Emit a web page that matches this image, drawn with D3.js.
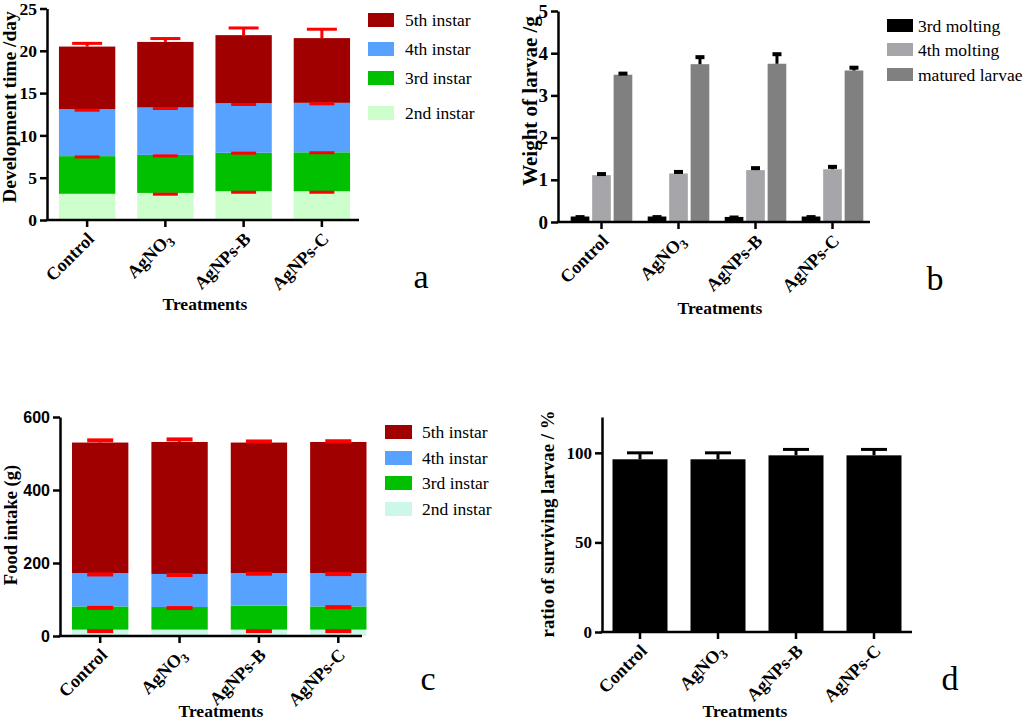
<!DOCTYPE html>
<html><head><meta charset="utf-8">
<script src="https://cdn.jsdelivr.net/npm/d3@7"></script>
<style>
body{margin:0;background:#fff;}
svg{display:block;}
</style></head><body>
<svg id="chart" width="1028" height="721"></svg>
<script>
// ---------------- DATA ----------------
const categories = ["Control", "AgNO3", "AgNPs-B", "AgNPs-C"];

// (a) development time per instar (days), stacked
const instarStages = ["2nd instar", "3rd instar", "4th instar", "5th instar"];
const devTime2nd = [3.1, 3.2, 3.4, 3.4];
const devTime3rd = [4.45, 4.5, 4.55, 4.6];
const devTime4th = [5.55, 5.6, 5.85, 5.85];
const devTime5th = [7.4, 7.75, 8.05, 7.65];
const devErr2nd = [0, 0.15, 0.12, 0.12];
const devErr3rd = [0.1, 0.12, 0.05, 0.05];
const devErr4th = [0.12, 0.12, 0.15, 0.12];
const devErr5th = [0.38, 0.4, 0.85, 1.05];
const devTicks = [0, 5, 10, 15, 20, 25];

// (b) weight of larvae (g)
const weightSeries = ["3rd molting", "4th molting", "matured larvae"];
const weight3rdMolting = [0.13, 0.13, 0.12, 0.13];
const weight4thMolting = [1.11, 1.15, 1.23, 1.25];
const weightMatured = [3.49, 3.74, 3.75, 3.59];
const weightErr3rd = [0.01, 0.01, 0.01, 0.01];
const weightErr4th = [0.05, 0.06, 0.07, 0.08];
const weightErrMatured = [0.05, 0.19, 0.25, 0.09];
const weightTicks = [0, 1, 2, 3, 4, 5];

// (c) food intake per instar (g), stacked
const food2nd = [17.5, 17.5, 17.5, 17.5];
const food3rd = [63.5, 62, 65.5, 63.5];
const food4th = [91.6, 90.5, 89.6, 91.6];
const food5th = [357.4, 361.6, 357.4, 359];
const foodErr2nd = [4, 0, 4, 4];
const foodErr3rd = [4, 3, 0, 2];
const foodErr4th = [4, 3, 2, 3];
const foodErr5th = [6, 7, 3, 2];
const foodTicks = [0, 200, 400, 600];

// (d) ratio of surviving larvae (%)
const survival = [96.4, 96.4, 98.6, 98.6];
const survivalErr = [3.6, 3.6, 3.3, 3.3];
const survivalTicks = [0, 50, 100];

// ---------------- STYLE ----------------
const SERIF = '"Liberation Serif","Times New Roman",Times,serif';
const SANS = '"Liberation Sans",Arial,Helvetica,sans-serif';
const instarColorsA = ["#ccffcc", "#00c000", "#58a2ff", "#a00000"];
const instarColorsC = ["#cdf7e8", "#00c000", "#58a2ff", "#a00000"];
const weightColors = ["#000000", "#a6a6aa", "#808080"];

const svg = d3.select("#chart");
svg.append("rect").attr("width", 1028).attr("height", 721).attr("fill", "#fff");

function labelCategory(sel, fs) {
  sel.each(function (d) {
    const t = d3.select(this);
    if (d === "AgNO3") {
      t.append("tspan").text("AgNO");
      t.append("tspan").attr("font-size", fs * 0.72).attr("dy", 4).text("3");
    } else t.text(d);
  });
}

function drawXAxis(g, x, y0, axisX0, axisEnd, fs) {
  const ax = g.append("g").attr("transform", `translate(0,${y0})`)
    .call(d3.axisBottom(x).tickSize(7).tickSizeOuter(0).tickFormat(""));
  ax.select(".domain").remove();
  ax.selectAll(".tick line").attr("stroke", "#000").attr("stroke-width", 2.5);
  ax.selectAll(".tick text").remove();
  ax.selectAll(".tick").append("text")
    .attr("text-anchor", "end")
    .attr("transform", "translate(8,20) rotate(-45)")
    .attr("font-family", SERIF).attr("font-weight", "bold")
    .attr("font-size", fs).attr("fill", "#000")
    .call(labelCategory, fs);
  g.append("line").attr("x1", axisX0 - 1.25).attr("x2", axisEnd)
    .attr("y1", y0).attr("y2", y0).attr("stroke", "#000").attr("stroke-width", 2.5);
}

function drawYAxis(g, y, ticks, axisX0, fam, fs) {
  const ay = g.append("g").attr("transform", `translate(${axisX0},0)`)
    .call(d3.axisLeft(y).tickValues(ticks).tickFormat(d3.format("d"))
      .tickSize(7).tickSizeOuter(0).tickPadding(3));
  ay.select(".domain").attr("stroke", "#000").attr("stroke-width", 2.5);
  ay.selectAll(".tick line").attr("stroke", "#000").attr("stroke-width", 2.5);
  ay.selectAll(".tick text").attr("font-family", fam).attr("font-weight", "bold")
    .attr("font-size", fs).attr("fill", "#000");
}

function yTitle(g, text, x, y, fs) {
  g.append("text").attr("transform", `translate(${x},${y}) rotate(-90)`)
    .attr("text-anchor", "middle").attr("font-family", SERIF).attr("font-weight", "bold")
    .attr("font-size", fs).attr("fill", "#000").text(text);
}
function xTitle(g, text, x, y) {
  g.append("text").attr("x", x).attr("y", y).attr("text-anchor", "middle")
    .attr("font-family", SERIF).attr("font-weight", "bold").attr("font-size", 17.5)
    .attr("fill", "#000").text(text);
}
function panelLetter(text, x, y) {
  svg.append("text").attr("x", x).attr("y", y).attr("text-anchor", "middle")
    .attr("font-family", SERIF).attr("font-size", 34).attr("fill", "#000").text(text);
}
function legend(g, names, colors, x, tops, bw, bh, tx, fs) {
  names.forEach((n, i) => {
    g.append("rect").attr("x", x).attr("y", tops[i]).attr("width", bw).attr("height", bh)
      .attr("fill", colors[i]);
    g.append("text").attr("x", tx).attr("y", tops[i] + bh / 2).attr("dy", "0.35em")
      .attr("font-family", SERIF).attr("font-size", fs).attr("fill", "#000").text(n);
  });
}

function stackedPanel(g, opts) {
  const { x, y, stages, values, errs, colors, capTop, capInner, capW } = opts;
  const rows = categories.map((c, i) => {
    const r = { cat: c };
    stages.forEach((s, k) => { r[s] = values[k][i]; });
    return r;
  });
  const layers = d3.stack().keys(stages)(rows);
  layers.forEach((layer, k) => {
    g.append("g").selectAll("rect").data(layer).join("rect")
      .attr("x", d => x(d.data.cat)).attr("width", x.bandwidth())
      .attr("y", d => y(d[1])).attr("height", d => y(d[0]) - y(d[1]))
      .attr("fill", colors[k]);
  });
  const eg = g.append("g").attr("stroke", "#ff0000").attr("stroke-width", capW);
  layers.forEach((layer, k) => {
    const top = k === layers.length - 1;
    layer.forEach((d, i) => {
      const e = errs[k][i];
      if (!e) return;
      const cx = x(d.data.cat) + x.bandwidth() / 2;
      const yv = top ? d[1] + e : d[1] - e;
      const w = top ? capTop : capInner;
      eg.append("line").attr("x1", cx).attr("x2", cx).attr("y1", y(d[1])).attr("y2", y(yv))
        .attr("stroke-width", 3);
      eg.append("line").attr("x1", cx - w / 2).attr("x2", cx + w / 2)
        .attr("y1", y(yv)).attr("y2", y(yv));
    });
  });
}

// ---------------- PANEL A ----------------
{
  const g = svg.append("g");
  const x = d3.scaleBand().domain(categories).range([48, 361]).paddingInner(0.28).paddingOuter(0.14);
  const y = d3.scaleLinear().domain([0, 25]).range([220, 8.5]);
  stackedPanel(g, {
    x, y, stages: instarStages,
    values: [devTime2nd, devTime3rd, devTime4th, devTime5th],
    errs: [devErr2nd, devErr3rd, devErr4th, devErr5th],
    colors: instarColorsA, capTop: 30, capInner: 25, capW: 3
  });
  drawYAxis(g, y, devTicks, 47, SERIF, 17.5);
  drawXAxis(g, x, y(0), 47, 359, 18);
  yTitle(g, "Development time /day", 16, 107, 19.5);
  xTitle(g, "Treatments", 205, 310);
  legend(g, instarStages.slice().reverse(), instarColorsA.slice().reverse(),
    368, [13, 42, 71, 106], 26, 14, 405, 17.5);
  panelLetter("a", 421, 288);
}

// ---------------- PANEL B ----------------
{
  const g = svg.append("g");
  const x = d3.scaleBand().domain(categories).range([563, 871]).paddingInner(0.2).paddingOuter(0.1);
  const xs = d3.scaleBand().domain(weightSeries).range([0, x.bandwidth()]).paddingInner(0.13);
  const y = d3.scaleLinear().domain([0, 5]).range([222, 11]);
  const vals = [weight3rdMolting, weight4thMolting, weightMatured];
  const errs = [weightErr3rd, weightErr4th, weightErrMatured];
  weightSeries.forEach((s, k) => {
    g.append("g").selectAll("rect").data(categories).join("rect")
      .attr("x", (c) => x(c) + xs(s)).attr("width", xs.bandwidth())
      .attr("y", (c, i) => y(vals[k][i])).attr("height", (c, i) => y(0) - y(vals[k][i]))
      .attr("fill", weightColors[k]);
  });
  const eg = g.append("g").attr("stroke", "#000");
  weightSeries.forEach((s, k) => {
    categories.forEach((c, i) => {
      const cx = x(c) + xs(s) + xs.bandwidth() / 2;
      const v = vals[k][i], e = errs[k][i];
      eg.append("line").attr("x1", cx).attr("x2", cx).attr("y1", y(v)).attr("y2", y(v + e)).attr("stroke-width", 3);
      eg.append("line").attr("x1", cx - 4.5).attr("x2", cx + 4.5).attr("y1", y(v + e) + 1).attr("y2", y(v + e) + 1).attr("stroke-width", 4);
    });
  });
  drawYAxis(g, y, weightTicks, 558, SERIF, 19);
  drawXAxis(g, x, y(0), 558, 870, 18);
  yTitle(g, "Weight of larvae /g", 537, 101, 21);
  xTitle(g, "Treatments", 720, 314);
  legend(g, weightSeries, weightColors, 887, [19, 43, 68], 26, 13, 918, 17.5);
  panelLetter("b", 935, 290);
}

// ---------------- PANEL C ----------------
{
  const g = svg.append("g");
  const x = d3.scaleBand().domain(categories).range([60.5, 378]).paddingInner(0.29).paddingOuter(0.145);
  const y = d3.scaleLinear().domain([0, 600]).range([636, 417]);
  stackedPanel(g, {
    x, y, stages: instarStages,
    values: [food2nd, food3rd, food4th, food5th],
    errs: [foodErr2nd, foodErr3rd, foodErr4th, foodErr5th],
    colors: instarColorsC, capTop: 26, capInner: 26, capW: 4
  });
  drawYAxis(g, y, foodTicks, 60, SANS, 16);
  drawXAxis(g, x, y(0), 60, 362, 18);
  yTitle(g, "Food intake (g)", 17, 525, 18.5);
  xTitle(g, "Treatments", 221, 717);
  legend(g, instarStages.slice().reverse(), instarColorsC.slice().reverse(),
    385, [425, 451, 476, 502], 27, 14, 422, 17.5);
  panelLetter("c", 428, 690);
}

// ---------------- PANEL D ----------------
{
  const g = svg.append("g");
  const x = d3.scaleBand().domain(categories).range([601, 913]).paddingInner(0.295).paddingOuter(0.1475);
  const y = d3.scaleLinear().domain([0, 120]).range([632, 417]);
  g.append("g").selectAll("rect").data(categories).join("rect")
    .attr("x", c => x(c)).attr("width", x.bandwidth())
    .attr("y", (c, i) => y(survival[i])).attr("height", (c, i) => y(0) - y(survival[i]))
    .attr("fill", "#000");
  const eg = g.append("g").attr("stroke", "#000").attr("stroke-width", 3);
  categories.forEach((c, i) => {
    const cx = x(c) + x.bandwidth() / 2;
    const top = survival[i] + survivalErr[i];
    eg.append("line").attr("x1", cx).attr("x2", cx).attr("y1", y(survival[i])).attr("y2", y(top));
    eg.append("line").attr("x1", cx - 13).attr("x2", cx + 13).attr("y1", y(top)).attr("y2", y(top));
  });
  drawYAxis(g, y, survivalTicks, 602, SERIF, 17);
  drawXAxis(g, x, y(0), 602, 912, 18);
  yTitle(g, "ratio of surviving larvae / %", 554, 524, 18.8);
  xTitle(g, "Treatments", 745, 717);
  panelLetter("d", 950, 690);
}
</script>
</body></html>
